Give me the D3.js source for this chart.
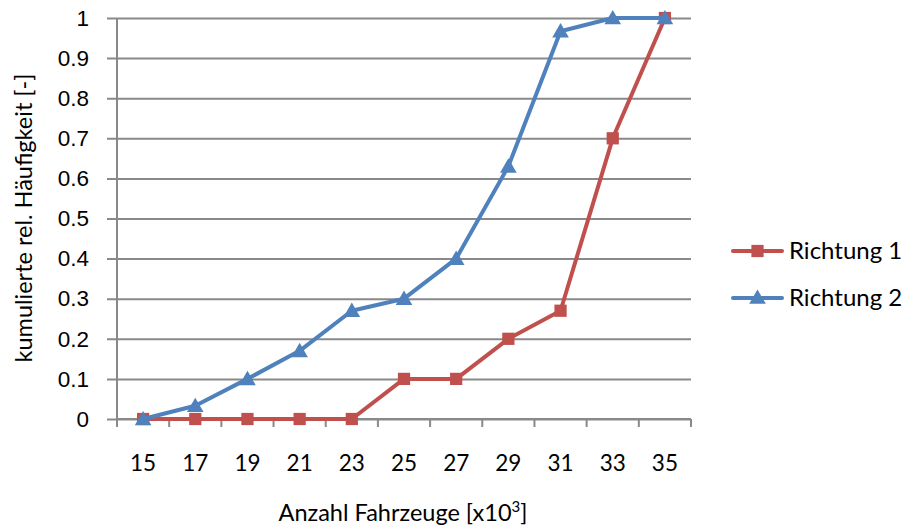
<!DOCTYPE html>
<html>
<head>
<meta charset="utf-8">
<script src="https://cdn.jsdelivr.net/npm/d3@7"></script>
<style>
  html, body { margin: 0; padding: 0; background: #fff; }
  svg { display: block; font-family: Lato, "Open Sans", sans-serif; }
</style>
</head>
<body>
<svg id="chart" width="904" height="528"></svg>
<script>
// Vehicle counts (x10^3) and cumulative relative frequencies per direction
const categories = ["15", "17", "19", "21", "23", "25", "27", "29", "31", "33", "35"];
const richtung1 = [0, 0, 0, 0, 0, 0.1, 0.1, 0.2, 0.27, 0.7, 1.0];
const richtung2 = [0, 0.033, 0.1, 0.17, 0.27, 0.3, 0.4, 0.63, 0.967, 1.0, 1.0];
const yTicks = [0, 0.1, 0.2, 0.3, 0.4, 0.5, 0.6, 0.7, 0.8, 0.9, 1];
const seriesNames = ["Richtung 1", "Richtung 2"];

const svg = d3.select("#chart");
const plot = { left: 117, right: 691, top: 18, bottom: 419 };

const x = d3.scaleBand().domain(categories).range([plot.left, plot.right]).padding(0);
const y = d3.scaleLinear().domain([0, 1]).range([plot.bottom, plot.top]);

const gridColor = "#898989";
const textColor = "#000";
const tickFont = "22.5px";
const titleFont = "23.5px";
const legendFont = "24px";

// Horizontal gridlines with outside tick marks
const yAxis = d3.axisLeft(y).tickValues(yTicks).tickFormat(d => d === 0 || d === 1 ? String(d) : d.toFixed(1))
  .tickSize(-(plot.right - plot.left)).tickPadding(28);
const yg = svg.append("g").attr("transform", `translate(${plot.left},0)`).call(yAxis);
yg.select(".domain").remove();
yg.selectAll(".tick line").attr("stroke", gridColor).attr("stroke-width", 2).attr("x1", -10);
yg.selectAll(".tick text").attr("fill", textColor).style("font-size", tickFont);

// Vertical axis line
svg.append("line")
  .attr("x1", plot.left).attr("x2", plot.left)
  .attr("y1", plot.top).attr("y2", plot.bottom)
  .attr("stroke", gridColor).attr("stroke-width", 2);

// Category axis: ticks on band boundaries, labels at band centres
const xg = svg.append("g").attr("transform", `translate(0,${plot.bottom})`);
xg.append("line")
  .attr("x1", plot.left).attr("x2", plot.right)
  .attr("stroke", gridColor).attr("stroke-width", 2);
const bounds = categories.map(c => x(c)).concat([x(categories[categories.length - 1]) + x.bandwidth()]);
xg.selectAll("line.bt").data(bounds).join("line").attr("class", "bt")
  .attr("x1", d => d).attr("x2", d => d).attr("y1", 0).attr("y2", 8)
  .attr("stroke", gridColor).attr("stroke-width", 2);
xg.selectAll("text").data(categories).join("text")
  .attr("x", d => x(d) + x.bandwidth() / 2)
  .attr("y", 52)
  .attr("text-anchor", "middle")
  .attr("fill", textColor)
  .style("font-size", tickFont)
  .text(d => d);

// Axis titles
const xt = svg.append("text")
  .attr("x", 403).attr("y", 521)
  .attr("text-anchor", "middle")
  .attr("fill", textColor)
  .style("font-size", titleFont);
xt.append("tspan").text("Anzahl Fahrzeuge [x10");
xt.append("tspan").attr("dy", -9).style("font-size", "15px").text("3");
xt.append("tspan").attr("dy", 9).text("]");

svg.append("text")
  .attr("transform", "translate(32,218) rotate(-90)")
  .attr("text-anchor", "middle")
  .attr("fill", textColor)
  .style("font-size", titleFont)
  .text("kumulierte rel. Häufigkeit [-]");

// Series
const colors = ["#c0504d", "#4f81bd"];
const data = [richtung1, richtung2];
const cx = i => x(categories[i]) + x.bandwidth() / 2;
const line = d3.line().x((d, i) => cx(i)).y(d => y(d));

const sq = d3.symbol().type(d3.symbolSquare).size(150);
const tri = d3.symbol().type(d3.symbolTriangle).size(120);
const symbols = [sq, tri];

data.forEach((vals, s) => {
  svg.append("path").datum(vals)
    .attr("d", line)
    .attr("fill", "none")
    .attr("stroke", colors[s])
    .attr("stroke-width", 4)
    .attr("stroke-linejoin", "round");
  svg.selectAll(null).data(vals).join("path")
    .attr("d", symbols[s])
    .attr("transform", (d, i) => `translate(${cx(i)},${y(d) + (s === 1 ? 1.5 : 0)})`)
    .attr("fill", colors[s]);
});

// Legend
const legend = svg.append("g");
seriesNames.forEach((name, s) => {
  const ly = 251 + s * 47;
  legend.append("line")
    .attr("x1", 733).attr("x2", 782).attr("y1", ly).attr("y2", ly)
    .attr("stroke", colors[s]).attr("stroke-width", 4).attr("stroke-linecap", "round");
  legend.append("path").attr("d", symbols[s])
    .attr("transform", `translate(757.5,${ly + (s === 1 ? 1 : 0)})`)
    .attr("fill", colors[s]);
  legend.append("text")
    .attr("x", 789).attr("y", ly + 8)
    .attr("fill", textColor)
    .style("font-size", legendFont)
    .text(name);
});
</script>
</body>
</html>
